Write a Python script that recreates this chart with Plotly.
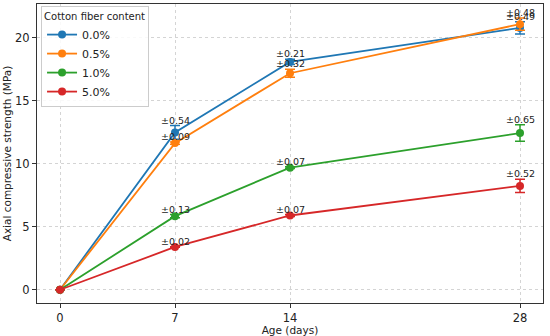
import plotly.graph_objects as go

days = [0, 7, 14, 28]
series_names = ["0.0%", "0.5%", "1.0%", "5.0%"]
colors = ["#1f77b4", "#ff7f0e", "#2ca02c", "#d62728"]
mean_00 = [0, 12.5, 18.1, 20.8]
err_00 = [0, 0.54, 0.21, 0.49]
mean_05 = [0, 11.65, 17.2, 21.1]
err_05 = [0, 0.09, 0.32, 0.48]
mean_10 = [0, 5.85, 9.7, 12.45]
err_10 = [0, 0.13, 0.07, 0.65]
mean_50 = [0, 3.4, 5.9, 8.25]
err_50 = [0, 0.02, 0.07, 0.52]

means = [mean_00, mean_05, mean_10, mean_50]
errs = [err_00, err_05, err_10, err_50]

font = "DejaVu Sans"
fig = go.Figure()
annotations = []
for name, c, m, e in zip(series_names, colors, means, errs):
    fig.add_trace(go.Scatter(
        x=days, y=m, name=name, mode="lines+markers",
        line=dict(color=c, width=1.8),
        marker=dict(color=c, size=8),
        error_y=dict(type="data", array=e, color=c, thickness=1.5, width=5, visible=True),
    ))
    for d, v, s in zip(days, m, e):
        if d == 0:
            continue
        annotations.append(dict(
            x=d, y=v + s, text=f"±{s:.2f}", showarrow=False,
            xanchor="center", yanchor="bottom", yshift=-2,
            font=dict(family=font, size=9.5, color="#222"),
        ))

axis_common = dict(
    showgrid=True, gridcolor="#d4d4d4", griddash="dot", gridwidth=1,
    showline=True, linecolor="#333", linewidth=1, mirror=True,
    ticks="outside", ticklen=4, tickcolor="#333",
    tickfont=dict(family=font, size=11.5, color="#222"),
    zeroline=False, automargin=False,
)

fig.update_layout(
    width=550, height=336,
    margin=dict(l=37, r=7, t=4, b=33),
    paper_bgcolor="white", plot_bgcolor="white",
    font=dict(family=font, color="#222"),
    xaxis=dict(**axis_common, range=[-1.4, 29.4], tickvals=days, ticktext=[str(d) for d in days],
               title=dict(text="Age (days)", font=dict(family=font, size=10.5), standoff=2)),
    yaxis=dict(**axis_common, range=[-1.05, 22.7], tickvals=[0, 5, 10, 15, 20],
               title=dict(text="Axial compressive strength (MPa)", font=dict(family=font, size=10.5), standoff=1)),
    legend=dict(
        x=0.008, y=0.993, xanchor="left", yanchor="top",
        bgcolor="rgba(255,255,255,0.85)", bordercolor="#ccc", borderwidth=1,
        title=dict(text="Cotton fiber content", font=dict(family=font, size=10)),
        font=dict(family=font, size=11), tracegroupgap=0, itemwidth=30,
    ),
    annotations=annotations,
    showlegend=True,
)

fig.write_html("out.html", config={"displayModeBar": False},
               post_script="document.body.style.margin='0px';document.body.style.overflow='hidden';")
